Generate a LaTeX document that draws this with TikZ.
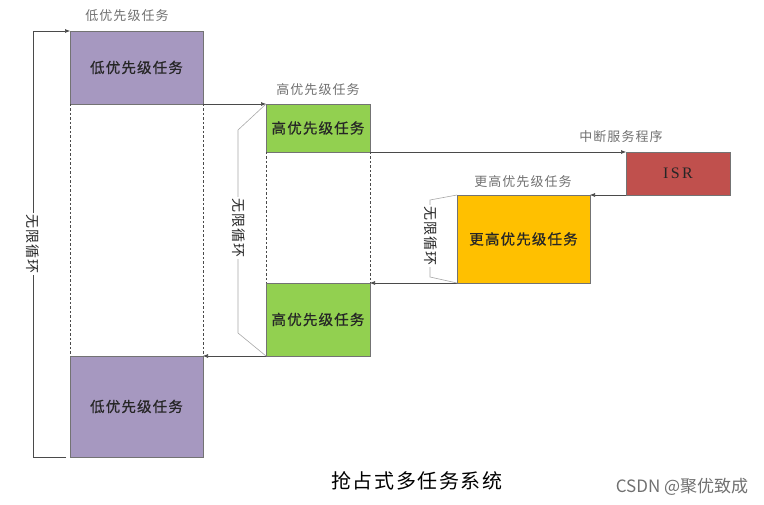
\documentclass[tikz,border=0pt]{standalone}
\usepackage{fontspec}
\setmainfont{Liberation Serif}
\newfontfamily\cjk[LetterSpace=8]{Noto Sans CJK SC}
\newfontfamily\cjkbold[LetterSpace=8,FakeBold=0.6]{Noto Sans CJK SC}
\newfontfamily\cjkplain{Noto Sans CJK SC}
\newfontfamily\isrfont[LetterSpace=15]{Liberation Serif}
\usetikzlibrary{arrows.meta}
\definecolor{purplebox}{HTML}{A698C0}
\definecolor{greenbox}{HTML}{92D050}
\definecolor{isrbox}{HTML}{C0504D}
\definecolor{orangebox}{HTML}{FFC000}
\definecolor{txtdark}{HTML}{262626}
\definecolor{txtgray}{HTML}{707070}
\definecolor{linedark}{HTML}{4A4A4A}
\definecolor{linelight}{HTML}{A8A8A8}
\begin{document}
\begin{tikzpicture}[x=1pt,y=-1pt,
  taskbox/.style={draw=black!55, line width=0.6pt, inner sep=0pt, outer sep=0pt,
    anchor=north west, text=txtdark, font=\cjkbold\fontsize{14.5}{16}\selectfont},
  toplbl/.style={text=txtgray, inner sep=1pt, font=\cjk\fontsize{13}{15}\selectfont},
  arr/.style={draw=linedark, line width=0.6pt, -{Latex[length=5pt,width=4pt]}},
  dashline/.style={draw=linedark, line width=0.5pt, dash pattern=on 2.5pt off 2pt},
  loopline/.style={draw=linelight, line width=0.6pt},
  looplbl/.style={fill=white, rotate=-90, inner sep=1pt, text=txtdark,
    font=\cjk\fontsize{14}{16}\selectfont}]
\useasboundingbox (0,0) rectangle (764,505);

% boxes
\node[taskbox, fill=purplebox, minimum width=133pt, minimum height=73pt] (p1) at (70,31) {低优先级任务};
\node[taskbox, fill=greenbox, minimum width=104pt, minimum height=48pt] (g1) at (266,104) {高优先级任务};
\node[taskbox, fill=isrbox, minimum width=104pt, minimum height=43pt, font=\isrfont\fontsize{16}{18}\selectfont] (isr) at (626,152) {ISR};
\node[taskbox, fill=orangebox, minimum width=133pt, minimum height=88pt] (o) at (457,195) {更高优先级任务};
\node[taskbox, fill=greenbox, minimum width=104pt, minimum height=73pt] (g2) at (266,283) {高优先级任务};
\node[taskbox, fill=purplebox, minimum width=133pt, minimum height=101pt] (p2) at (70,356) {低优先级任务};

% labels above
\node[toplbl] (t1) at (127,16) {低优先级任务};
\node[toplbl] (t2) at (318,90) {高优先级任务};
\node[toplbl] (t3) at (621,137) {中断服务程序};
\node[toplbl] (t4) at (523,182) {更高优先级任务};

% dashed verticals
\draw[dashline] (p1.south west) -- (p2.north west);
\draw[dashline] (p1.south east) -- (p2.north east);
\draw[dashline] (g1.south west) -- (g2.north west);
\draw[dashline] (g1.south east) -- (g2.north east);

% flow arrows
\draw[arr] (p1.south east) -- (g1.north west);
\draw[arr] (g1.south east) -- (isr.north west);
\draw[arr] (isr.south west) -- (o.north east);
\draw[arr] (o.south west) -- (g2.north east);
\draw[arr] (g2.south west) -- (p2.north east);

% outer infinite loop
\coordinate (lb0) at (66,457);
\coordinate (lb1) at (33,457);
\coordinate (lt1) at (33,31);
\draw[arr] (lb0) -- (lb1) -- (lt1) -- (p1.north west);
\node[looplbl] (ll1) at (33,244) {无限循环};

% green loop
\coordinate (ga) at (238,130);
\coordinate (gb) at (238,333);
\draw[loopline] (g1.north west) -- (ga) -- (gb) -- (g2.south west);
\node[looplbl] (ll2) at (239,228) {无限循环};

% orange loop
\coordinate (oa) at (430,200);
\coordinate (ob) at (430,277);
\draw[loopline] (o.north west) -- (oa) -- (ob) -- (o.south west);
\node[looplbl] (ll3) at (431,236) {无限循环};

% caption and watermark
\node[text=black, font=\cjk\fontsize{20}{22}\selectfont] (cap) at (417,481) {抢占式多任务系统};
\node[text=txtgray, font=\cjkplain\fontsize{17}{19}\selectfont] (wm) at (682,487) {CSDN @聚优致成};
\end{tikzpicture}
\end{document}
